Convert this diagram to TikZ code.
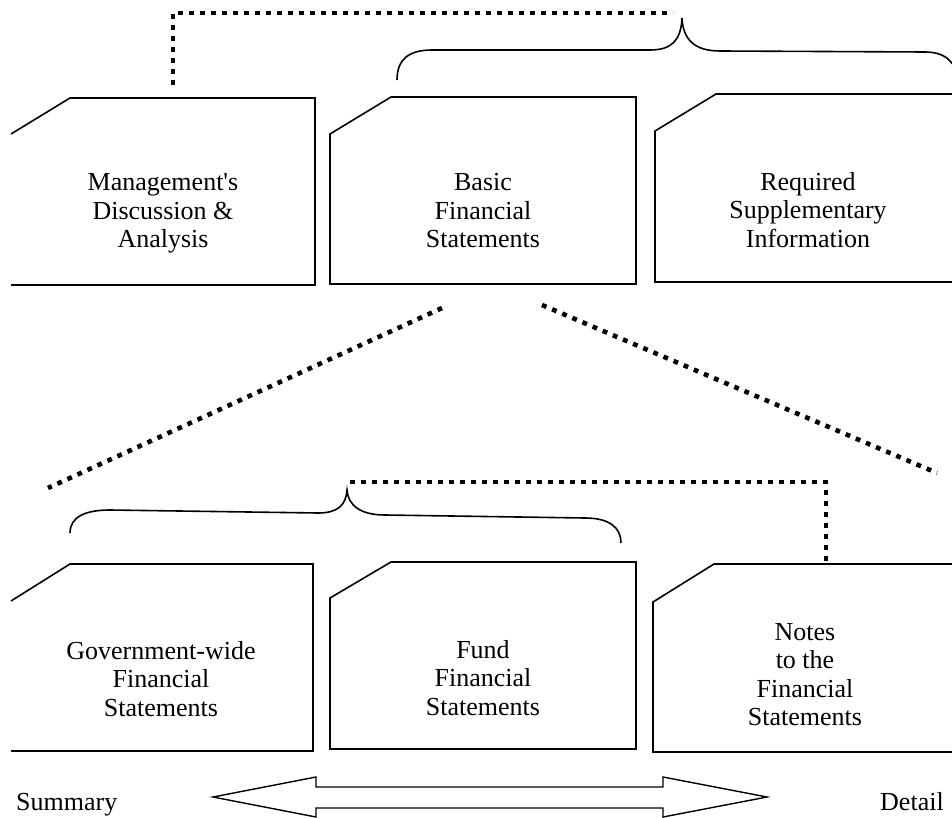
\documentclass[tikz,border=0pt]{standalone}
\usepackage{fontspec}
\setmainfont{Liberation Serif}[Ligatures=TeXOff]
\begin{document}
\begin{tikzpicture}[x=1pt,y=-1pt,
  boxline/.style={line width=1.6pt, line join=miter},
  dots/.style={line width=4.6pt, dash pattern=on 4.8pt off 6.2pt},
  brace/.style={line width=1.6pt},
  arrowline/.style={line width=1.4pt, line join=miter},
  lbl/.style={align=center, font=\fontsize{26}{28.5}\selectfont, inner sep=0pt}]
\useasboundingbox (0,0) rectangle (952,818);
\clip (0,0) rectangle (952,818);

% boxes (top row)
\draw[boxline] (11,134) -- (70,98) -- (315,98) -- (315,285) -- (11,285);
\draw[boxline] (330,284) -- (330,134) -- (391,97) -- (636,97) -- (636,284) -- cycle;
\draw[boxline] (960,282) -- (655,282) -- (655,131) -- (716,94) -- (960,94);
% boxes (bottom row)
\draw[boxline] (11,601) -- (70,564) -- (313,564) -- (313,751) -- (11,751);
\draw[boxline] (330,749) -- (330,598) -- (391,562) -- (636,562) -- (636,749) -- cycle;
\draw[boxline] (960,752) -- (653,752) -- (653,602) -- (714,564) -- (960,564);

% labels
\node[lbl] (mda) at (163,213.5) {Management's\\Discussion \&\\Analysis};
\node[lbl] (bfs) at (483,211) {Basic\\Financial\\Statements};
\node[lbl] (rsi) at (808,210) {Required\\Supplementary\\Information};
\node[lbl] (gw) at (161,679) {Government-wide\\Financial\\Statements};
\node[lbl] (ffs) at (483,678) {Fund\\Financial\\Statements};
\node[lbl] (notes) at (805,674.5) {Notes\\to the\\Financial\\Statements};
\node[lbl, anchor=base west] (sum) at (16,810) {Summary};
\node[lbl, anchor=base west] (det) at (880,810) {Detail};

% connector coordinates
\coordinate (mdaTop) at (173,85);
\coordinate (topCorner) at (173,13);
\coordinate (topBraceTip) at (673,13);
\coordinate (botBraceTip) at (350,482);
\coordinate (botCorner) at (826,482);
\coordinate (notesTop) at (826,563);
\coordinate (bfsL) at (442,308);
\coordinate (bfsR) at (542,305);
\coordinate (leftEnd) at (48,488);
\coordinate (rightEnd) at (937,473);

% dotted connectors
\draw[dots] (mdaTop) -- (topCorner) -- (topBraceTip);
\draw[dots] (botBraceTip) -- (botCorner) -- (notesTop);
\draw[dots] (bfsL) -- (leftEnd);
\draw[dots] (bfsR) -- (rightEnd);

% braces
\draw[brace] (397,80) .. controls (397,60) and (408,50) .. (432,50) -- (650,50)
  .. controls (672,50) and (681,40) .. (682,18)
  .. controls (683,40) and (695,51) .. (720,51) -- (925,52)
  .. controls (945,52) and (957,62) .. (958,82);
\draw[brace] (70,533) .. controls (70,517) and (85,510) .. (110,510) -- (318,513)
  .. controls (338,513) and (346,505) .. (347,490)
  .. controls (348,505) and (360,515) .. (385,515) -- (585,518)
  .. controls (610,518) and (621,528) .. (621,543);

% double arrow
\draw[arrowline] (213,797) -- (316,777) -- (316,787) -- (663,787) -- (663,777)
  -- (767,797) -- (663,817) -- (663,808) -- (316,808) -- (316,817) -- cycle;
\end{tikzpicture}
\end{document}
